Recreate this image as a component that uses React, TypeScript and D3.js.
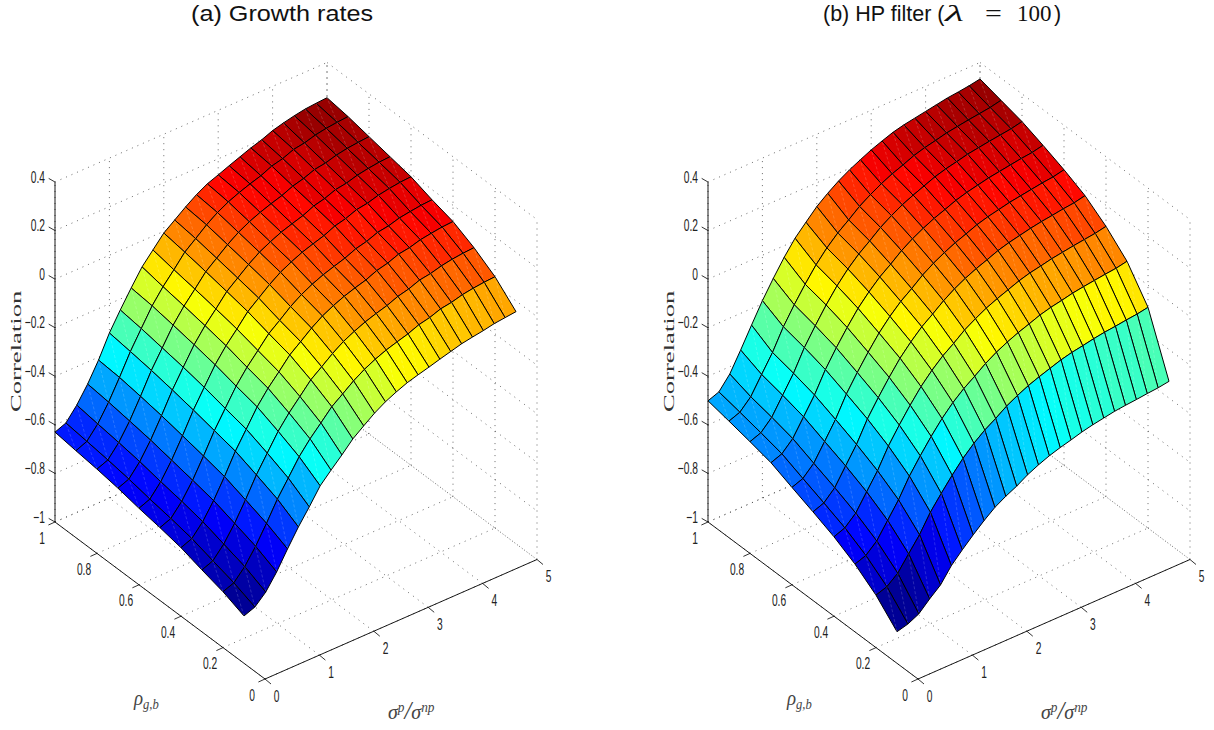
import React from "react";
import * as d3 from "d3";

const ratioGrid = [0,0.2,0.4,0.6,0.8,1,1.2,1.4,1.6,1.8,2,2.2,2.4,2.6,2.8,3,3.2,3.4,3.6,3.8,4,4.2,4.4,4.6,4.8,5];
const rhoGrid = [0.1,0.2,0.3,0.4,0.5,0.6,0.7,0.8,0.9,1];
const ratioTicks = [0,1,2,3,4,5];
const rhoTicks = [0,0.2,0.4,0.6,0.8,1];
const corrTicks = [-1,-0.8,-0.6,-0.4,-0.2,0,0.2,0.4];

const growth01 = [-.805,-.788,-.746,-.683,-.608,-.537,-.474,-.407,-.362,-.319,-.273,-.239,-.206,-.179,-.158,-.140,-.127,-.115,-.102,-.090,-.078,-.070,-.063,-.054,-.049,-.044];
const growth02 = [-.770,-.753,-.706,-.642,-.567,-.487,-.420,-.352,-.298,-.252,-.205,-.172,-.138,-.110,-.088,-.070,-.056,-.043,-.025,-.015,.001,.008,.020,.027,.032,.035];
const growth03 = [-.745,-.727,-.678,-.612,-.535,-.452,-.382,-.312,-.256,-.208,-.159,-.125,-.090,-.060,-.038,-.019,-.004,.009,.027,.038,.055,.062,.074,.082,.087,.090];
const growth04 = [-.718,-.700,-.650,-.583,-.504,-.419,-.348,-.276,-.219,-.171,-.121,-.086,-.050,-.020,.003,.022,.037,.050,.069,.080,.097,.104,.117,.124,.130,.133];
const growth05 = [-.700,-.682,-.631,-.564,-.484,-.399,-.327,-.255,-.197,-.148,-.098,-.063,-.026,.004,.027,.046,.061,.075,.094,.105,.122,.129,.142,.149,.155,.158];
const growth06 = [-.685,-.667,-.615,-.546,-.465,-.379,-.305,-.232,-.173,-.124,-.072,-.036,0,.031,.054,.074,.089,.103,.123,.134,.151,.158,.171,.179,.185,.188];
const growth07 = [-.667,-.649,-.597,-.528,-.447,-.361,-.287,-.214,-.155,-.106,-.054,-.018,.018,.049,.072,.092,.107,.121,.141,.152,.169,.176,.189,.197,.203,.206];
const growth08 = [-.653,-.635,-.583,-.514,-.432,-.345,-.272,-.198,-.139,-.089,-.037,-.001,.035,.066,.090,.109,.125,.139,.158,.170,.187,.194,.207,.215,.220,.224];
const growth09 = [-.642,-.623,-.571,-.501,-.419,-.332,-.257,-.183,-.124,-.074,-.021,.015,.052,.083,.107,.126,.142,.156,.176,.187,.205,.212,.225,.233,.238,.242];
const growth10 = [-.630,-.612,-.558,-.491,-.412,-.320,-.245,-.174,-.107,-.057,-.007,.027,.061,.092,.117,.134,.152,.169,.186,.200,.218,.230,.240,.248,.252,.255];

const hp01 = [-.870,-.858,-.836,-.794,-.756,-.696,-.651,-.609,-.570,-.535,-.509,-.487,-.460,-.439,-.421,-.407,-.395,-.382,-.372,-.364,-.356,-.351,-.347,-.342,-.338,-.331];
const hp02 = [-.784,-.769,-.733,-.673,-.614,-.541,-.483,-.428,-.378,-.336,-.301,-.273,-.242,-.218,-.197,-.180,-.165,-.150,-.139,-.131,-.122,-.115,-.110,-.104,-.099,-.091];
const hp03 = [-.721,-.705,-.665,-.600,-.535,-.457,-.393,-.333,-.279,-.233,-.195,-.164,-.131,-.104,-.082,-.063,-.047,-.030,-.018,-.009,.001,.008,.014,.020,.025,.034];
const hp04 = [-.673,-.656,-.615,-.547,-.480,-.398,-.331,-.269,-.212,-.165,-.125,-.093,-.058,-.031,-.007,.012,.029,.046,.059,.068,.078,.085,.092,.098,.104,.113];
const hp05 = [-.635,-.618,-.575,-.505,-.436,-.351,-.283,-.219,-.160,-.112,-.070,-.037,-.002,.027,.051,.071,.088,.106,.119,.129,.139,.147,.153,.160,.165,.175];
const hp06 = [-.599,-.582,-.539,-.469,-.398,-.313,-.244,-.180,-.121,-.072,-.030,.003,.039,.068,.092,.113,.130,.148,.161,.171,.181,.188,.195,.202,.207,.217];
const hp07 = [-.562,-.545,-.502,-.432,-.362,-.277,-.207,-.143,-.084,-.036,.006,.039,.075,.104,.128,.149,.166,.184,.197,.207,.217,.224,.231,.238,.243,.253];
const hp08 = [-.540,-.523,-.479,-.408,-.337,-.251,-.181,-.115,-.056,-.006,.036,.070,.106,.135,.160,.180,.198,.216,.229,.239,.250,.257,.264,.270,.276,.286];
const hp09 = [-.520,-.503,-.459,-.387,-.316,-.230,-.159,-.094,-.034,.016,.058,.092,.128,.157,.182,.203,.220,.239,.252,.262,.273,.280,.287,.293,.299,.309];
const hp10 = [-.501,-.484,-.430,-.351,-.268,-.187,-.115,-.048,.011,.057,.102,.137,.168,.194,.216,.237,.254,.270,.281,.289,.297,.305,.313,.318,.324,.332];

const growthRows = [growth01,growth02,growth03,growth04,growth05,growth06,growth07,growth08,growth09,growth10];
const hpRows = [hp01,hp02,hp03,hp04,hp05,hp06,hp07,hp08,hp09,hp10];

const jetStops = d3.scaleLinear<number, string>()
  .domain([0, 0.125, 0.375, 0.625, 0.875, 1])
  .range(["#00008f", "#0000ff", "#00ffff", "#ffff00", "#ff0000", "#800000"] as any)
  .interpolate(d3.interpolateRgb as any);
const jet64 = d3.range(64).map((i) => jetStops((i + 0.5) / 64) as unknown as string);

const xS = d3.scaleLinear().domain([0, 5]).range([0, 272]);
const xSy = d3.scaleLinear().domain([0, 5]).range([0, -119.5]);
const rS = d3.scaleLinear().domain([0, 1]).range([0, -210]);
const rSy = d3.scaleLinear().domain([0, 1]).range([0, -157]);
const zS = d3.scaleLinear().domain([-1, 0.4]).range([0, -340]);

const DOT = { stroke: "#444", strokeWidth: 0.8, strokeDasharray: "1 5", fill: "none" } as const;
const SANS = "'Liberation Sans', Arial, sans-serif";
const SERIF = "'Liberation Serif', serif";
const fmt = (v: number) => (v < 0 ? "\u2212" : "") + String(Math.abs(v));

function Panel({ ox, rows }: { ox: number; rows: number[][] }) {
  const oy = 679;
  const P = (x: number, r: number, z: number): [number, number] => [
    ox + xS(x) + rS(r),
    oy + xSy(x) + rSy(r) + zS(z),
  ];
  const seg = (a: [number, number], b: [number, number], props: any, key: string) => (
    <line key={key} x1={a[0]} y1={a[1]} x2={b[0]} y2={b[1]} {...props} />
  );
  const all = rows.flat();
  const color = d3.scaleQuantize<string>().domain([d3.min(all)!, d3.max(all)!]).range(jet64);
  const faces: React.ReactNode[] = [];
  for (let i = ratioGrid.length - 2; i >= 0; i--) {
    for (let k = rhoGrid.length - 2; k >= 0; k--) {
      const a = P(ratioGrid[i], rhoGrid[k], rows[k][i]);
      const b = P(ratioGrid[i + 1], rhoGrid[k], rows[k][i + 1]);
      const d = P(ratioGrid[i + 1], rhoGrid[k + 1], rows[k + 1][i + 1]);
      const c = P(ratioGrid[i], rhoGrid[k + 1], rows[k + 1][i]);
      const pts = [a, b, d, c].map((p) => p.join(",")).join(" ");
      faces.push(
        <g key={`${i}-${k}`}>
          <polygon points={pts} fill={color(rows[k][i])} stroke="#000" strokeWidth={1} strokeLinejoin="round" />
          <line x1={a[0]} y1={a[1]} x2={d[0]} y2={d[1]} stroke="#fff" strokeOpacity={0.28} strokeWidth={0.6} strokeDasharray="3 2" />
        </g>
      );
    }
  }
  const zMin = -1, zMax = 0.4;
  return (
    <g>
      {ratioTicks.map((t) => seg(P(t, 0, zMin), P(t, 1, zMin), DOT, `fx${t}`))}
      {rhoTicks.map((t) => seg(P(0, t, zMin), P(5, t, zMin), DOT, `fr${t}`))}
      {ratioTicks.map((t) => seg(P(t, 1, zMin), P(t, 1, zMax), DOT, `wx${t}`))}
      {rhoTicks.map((t) => seg(P(5, t, zMin), P(5, t, zMax), DOT, `wr${t}`))}
      {corrTicks.map((t) => seg(P(0, 1, t), P(5, 1, t), DOT, `zx${t}`))}
      {corrTicks.map((t) => seg(P(5, 1, t), P(5, 0, t), DOT, `zr${t}`))}
      {faces}
      {seg(P(0, 1, zMin), P(0, 1, zMax), { stroke: "#000", strokeWidth: 0.9 }, "az")}
      {seg(P(0, 0, zMin), P(5, 0, zMin), { stroke: "#000", strokeWidth: 0.9 }, "ax")}
      {seg(P(0, 0, zMin), P(0, 1, zMin), { stroke: "#000", strokeWidth: 0.9 }, "ar")}
      {corrTicks.map((t) => {
        const p = P(0, 1, t);
        return (
          <g key={`zt${t}`}>
            <line x1={p[0]} y1={p[1]} x2={p[0] - 6.3} y2={p[1] - 3.6} stroke="#000" strokeWidth={0.8} />
            <text transform={`translate(${p[0] - 10},${p[1] + 0.5}) scale(0.62,1)`} textAnchor="end" fontFamily={SANS} fontSize={16.5} fill="#222">{fmt(t)}</text>
          </g>
        );
      })}
      {rhoTicks.map((t) => {
        const p = P(0, t, zMin);
        return (
          <g key={`rt${t}`}>
            <line x1={p[0]} y1={p[1]} x2={p[0] - 6.6} y2={p[1] + 3} stroke="#000" strokeWidth={0.8} />
            <text transform={`translate(${p[0] - 13},${p[1] + 21.5}) scale(0.62,1)`} textAnchor="middle" fontFamily={SANS} fontSize={16.5} fill="#222">{fmt(t)}</text>
          </g>
        );
      })}
      {ratioTicks.map((t) => {
        const p = P(t, 0, zMin);
        return (
          <g key={`xt${t}`}>
            <line x1={p[0]} y1={p[1]} x2={p[0] + 6} y2={p[1] + 5} stroke="#000" strokeWidth={0.8} />
            <text transform={`translate(${p[0] + 11.7},${p[1] + 22.5}) scale(0.62,1)`} textAnchor="middle" fontFamily={SANS} fontSize={16.5} fill="#222">{fmt(t)}</text>
          </g>
        );
      })}
      <text transform={`translate(${ox - 244},412) rotate(-90) scale(1.72,1)`} fontFamily={SERIF} fontSize={15.5} fill="#333">Correlation</text>
      <text transform={`translate(${ox - 131},705) scale(0.9,1)`} fontFamily={SERIF} fontSize={21} fontStyle="italic" fill="#444">
        {"\u03c1"}<tspan fontSize={14} dy={4}>g,b</tspan>
      </text>
      <text transform={`translate(${ox + 123},719) scale(0.95,1)`} fontFamily={SERIF} fontSize={21} fontStyle="italic" fill="#444">
        {"\u03c3"}<tspan fontSize={14} dy={-7}>p</tspan><tspan fontSize={26} dy={7}>/</tspan><tspan fontSize={21}>{"\u03c3"}</tspan><tspan fontSize={14} dy={-7}>np</tspan>
      </text>
    </g>
  );
}

export default function App() {
  return (
    <svg width={1214} height={730} viewBox="0 0 1214 730" style={{ position: "absolute", left: 0, top: 0, background: "#fff" }}>
      <text x={191} y={21} fontFamily={SANS} fontSize={22} textLength={182} lengthAdjust="spacingAndGlyphs" fill="#111">(a) Growth rates</text>
      <text x={823} y={21} fontFamily={SANS} fontSize={21.5} fill="#111">(b) HP filter (</text>
      <text transform="translate(945,21) scale(1.9,1)" fontFamily={SERIF} fontSize={23} fontStyle="italic" fill="#111">{"\u03bb"}</text>
      <text transform="translate(985,21) scale(1.3,1)" fontFamily={SERIF} fontSize={23} fill="#111">=</text>
      <text x={1017} y={21} fontFamily={SERIF} fontSize={23} fill="#111">100</text>
      <text x={1054} y={21} fontFamily={SANS} fontSize={21.5} fill="#111">)</text>
      <Panel ox={265} rows={growthRows} />
      <Panel ox={918} rows={hpRows} />
    </svg>
  );
}
